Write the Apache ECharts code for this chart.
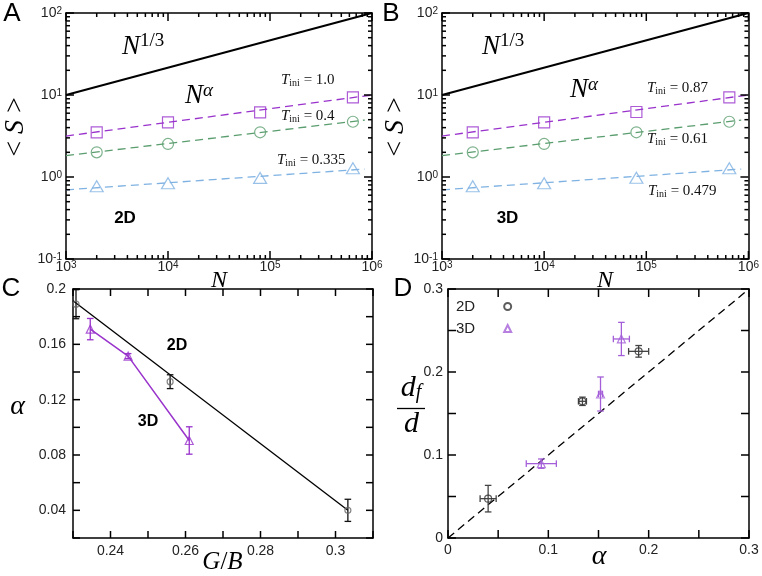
<!DOCTYPE html>
<html>
<head>
<meta charset="utf-8">
<script src="https://cdn.jsdelivr.net/npm/echarts@6/dist/echarts.min.js"></script>
<style>
  html, body { margin: 0; padding: 0; background: #fff; }
  #chart { width: 762px; height: 576px; }
</style>
</head>
<body>
<div id="chart"></div>
<script>
// A / B: mean cluster size <S> against N (log-log)
const nValues = [2000, 10000, 80000, 650000];
const sSquareA = [3.5, 4.63, 6.14, 9.33];
const sCircleA = [2.0, 2.53, 3.51, 4.72];
const sTriangleA = [0.77, 0.84, 0.975, 1.28];
const sSquareB = [3.5, 4.63, 6.2, 9.33];
const sCircleB = [2.0, 2.53, 3.51, 4.72];
const sTriangleB = [0.77, 0.84, 0.98, 1.28];

const refN = [1000, 1000000];
const refS = [10, 100]; // N^(1/3)
const fitN = [1000, 1000000];
const fitNShort = [1000, 850000];
const fitSquare = [3.16, 10];
const fitCircle = [1.82, 4.95];
const fitTriangle = [0.697, 1.25];

const tiniA = ["1.0", "0.4", "0.335"];
const tiniB = ["0.87", "0.61", "0.479"];

// C: alpha against G/B
const gb2D = [0.2308, 0.2559, 0.3033];
const alpha2D = [0.189, 0.133, 0.04];
const alpha2DErr = [0.0105, 0.005, 0.008];
const fitGB = [0.23, 0.3033];
const fitAlpha = [0.1915, 0.04];
const gb3D = [0.2346, 0.2447, 0.261];
const alpha3D = [0.171, 0.1515, 0.0905];
const alpha3DErr = [0.0077, 0.0018, 0.0099];

// D: d_f/d against alpha
const alphaD2 = [0.04, 0.134, 0.19];
const alphaD2Err = [0.008, 0.004, 0.01];
const dfD2 = [0.0474, 0.1647, 0.2249];
const dfD2Err = [0.016, 0.005, 0.007];
const alphaD3 = [0.093, 0.152, 0.1728];
const alphaD3Err = [0.015, 0.002, 0.008];
const dfD3 = [0.0896, 0.1735, 0.2398];
const dfD3Err = [0.0056, 0.0205, 0.02];
const diag = [0, 0.3];

// tick positions, marked on all four sides of each frame
const ticksN = [1e3, 1e4, 1e5, 1e6];
const minorN = [2e3, 3e3, 4e3, 5e3, 6e3, 7e3, 8e3, 9e3, 2e4, 3e4, 4e4, 5e4, 6e4, 7e4, 8e4, 9e4,
  2e5, 3e5, 4e5, 5e5, 6e5, 7e5, 8e5, 9e5];
const ticksS = [0.1, 1, 10, 100];
const minorS = [0.2, 0.3, 0.4, 0.5, 0.6, 0.7, 0.8, 0.9, 2, 3, 4, 5, 6, 7, 8, 9,
  20, 30, 40, 50, 60, 70, 80, 90];
const ticksGB = [0.23, 0.24, 0.25, 0.26, 0.27, 0.28, 0.29, 0.3, 0.31];
const ticksAlphaC = [0.02, 0.04, 0.06, 0.08, 0.1, 0.12, 0.14, 0.16, 0.18, 0.2];
const ticksD = [0, 0.05, 0.1, 0.15, 0.2, 0.25, 0.3];

const purple = "#9933cc";
const green = "#5a9d6e";
const blue = "#7fb2e2";
const sans = "Liberation Sans, Arial, sans-serif";
const serif = "Liberation Serif, Times New Roman, serif";

const chart = echarts.init(document.getElementById("chart"));

const pairs = (xs, ys) => xs.map((x, i) => [x, ys[i]]);
const rows = (xs, ys, ex, ey) => xs.map((x, i) => [x, ys[i], ex ? ex[i] : 0, ey ? ey[i] : 0]);

function axisPair(dim, gridIndex, base, label) {
  const make = (position, axisLabel) =>
    Object.assign(
      {
        gridIndex,
        position,
        axisLine: { show: true, onZero: false, lineStyle: { color: "#000", width: 1.5 } },
        axisTick: { show: false },
        minorTick: { show: false },
        splitLine: { show: false },
        axisLabel,
      },
      base
    );
  return [
    make(dim === "x" ? "bottom" : "left", label),
    make(dim === "x" ? "top" : "right", { show: false }),
  ];
}

const logX = { type: "log", logBase: 10, min: 1e3, max: 1e6 };
const logY = { type: "log", logBase: 10, min: 0.1, max: 100 };
const cX = { type: "value", min: 0.23, max: 0.31, interval: 0.01 };
const cY = { type: "value", min: 0.02, max: 0.2, interval: 0.02 };
const dAxis = { type: "value", min: 0, max: 0.3, interval: 0.05 };

const powRich = {
  b: { fontSize: 14, fontFamily: sans, color: "#222", lineHeight: 14 },
  s: { fontSize: 10, fontFamily: sans, color: "#222", lineHeight: 1, verticalAlign: "top" },
};
function powLabel(v) {
  return "{b|10}{s|" + Math.round(Math.log10(v)) + "}";
}
const powAxisLabel = (margin) => ({ formatter: powLabel, rich: powRich, margin, showMinLabel: true, showMaxLabel: true });

function stepLabel(every, digits, margin) {
  return {
    fontSize: 14, fontFamily: sans, color: "#222", margin,
    showMinLabel: true, showMaxLabel: true,
    formatter: (v) => (Math.round(v * 100) % every === 0 ? String(+v.toFixed(digits)) : ""),
  };
}

const xAxes = [].concat(
  axisPair("x", 0, logX, powAxisLabel(1)),
  axisPair("x", 1, logX, powAxisLabel(1)),
  axisPair("x", 2, cX, stepLabel(2, 2, 6)),
  axisPair("x", 3, dAxis, stepLabel(10, 1, 5))
);
const yAxes = [].concat(
  axisPair("y", 0, logY, powAxisLabel(4)),
  axisPair("y", 1, logY, powAxisLabel(4)),
  axisPair("y", 2, cY, stepLabel(4, 2, 7)),
  axisPair("y", 3, dAxis, stepLabel(10, 1, 5))
);

function line(axis, data, color, width, dashed) {
  return {
    type: "line", xAxisIndex: axis, yAxisIndex: axis, data, symbol: "none", silent: true,
    lineStyle: { color, width, type: dashed ? [8, 5] : "solid" }, z: 2,
  };
}
function marks(axis, data, symbol, size, color, name) {
  return {
    type: "scatter", name, xAxisIndex: axis, yAxisIndex: axis, data, symbol, symbolSize: size, silent: true,
    itemStyle: { color: "rgba(255,255,255,0)", borderColor: color, borderWidth: 1.2 }, z: 4,
  };
}
function errorBars(axis, data, color) {
  return {
    type: "custom", xAxisIndex: axis, yAxisIndex: axis, data, silent: true, z: 3,
    dimensions: ["x", "y", "ex", "ey"], encode: { x: "x", y: "y" },
    renderItem(params, api) {
      const x = api.value(0), y = api.value(1), ex = api.value(2), ey = api.value(3);
      const style = { stroke: color, lineWidth: 1.3 };
      const cap = 3.3;
      const kids = [];
      const seg = (x1, y1, x2, y2) => kids.push({ type: "line", shape: { x1, y1, x2, y2 }, style });
      if (ey) {
        const t = api.coord([x, y + ey]), b = api.coord([x, y - ey]);
        seg(t[0], t[1], b[0], b[1]);
        seg(t[0] - cap, t[1], t[0] + cap, t[1]);
        seg(b[0] - cap, b[1], b[0] + cap, b[1]);
      }
      if (ex) {
        const l = api.coord([x - ex, y]), r = api.coord([x + ex, y]);
        seg(l[0], l[1], r[0], r[1]);
        seg(l[0], l[1] - cap, l[0], l[1] + cap);
        seg(r[0], r[1] - cap, r[0], r[1] + cap);
      }
      return { type: "group", children: kids };
    },
  };
}

// inward ticks on the four sides of a frame; rows are [x, y, length, side]
function frameTicks(axis, xRef, yRef, xMajor, xMinor, yMajor, yMinor, bigLen) {
  const data = []
    .concat(xMajor.map((v) => [v, yRef, bigLen, 0]))
    .concat(xMinor.map((v) => [v, yRef, bigLen / 2, 0]))
    .concat(yMajor.map((v) => [xRef, v, bigLen, 1]))
    .concat(yMinor.map((v) => [xRef, v, bigLen / 2, 1]));
  return {
    type: "custom", xAxisIndex: axis, yAxisIndex: axis, data, silent: true, z: 10, clip: false,
    dimensions: ["x", "y", "len", "side"], encode: { x: "x", y: "y" },
    renderItem(params, api) {
      const cs = params.coordSys;
      const p = api.coord([api.value(0), api.value(1)]);
      const len = api.value(2);
      const style = { stroke: "#000", lineWidth: 1.5 };
      const top = cs.y, bottom = cs.y + cs.height, left = cs.x, right = cs.x + cs.width;
      const shapes = api.value(3) === 0
        ? [{ x1: p[0], y1: bottom, x2: p[0], y2: bottom - len }, { x1: p[0], y1: top, x2: p[0], y2: top + len }]
        : [{ x1: left, y1: p[1], x2: left + len, y2: p[1] }, { x1: right, y1: p[1], x2: right - len, y2: p[1] }];
      return { type: "group", children: shapes.map((shape) => ({ type: "line", shape, style })) };
    },
  };
}

const series = [
  // A
  line(0, pairs(refN, refS), "#000", 2, false),
  line(0, pairs(fitN, fitSquare), purple, 1.3, true),
  line(0, pairs(fitNShort, fitCircle), green, 1.3, true),
  line(0, pairs(fitNShort, fitTriangle), blue, 1.3, true),
  marks(0, pairs(nValues, sSquareA), "rect", 11, purple, "sqA"),
  marks(0, pairs(nValues, sCircleA), "circle", 11, green, "ciA"),
  marks(0, pairs(nValues, sTriangleA), "triangle", [13, 11], blue, "trA"),
  frameTicks(0, 1e3, 0.1, ticksN, minorN, ticksS, minorS, 8),
  // B
  line(2, pairs(refN, refS), "#000", 2, false),
  line(2, pairs(fitN, fitSquare), purple, 1.3, true),
  line(2, pairs(fitNShort, fitCircle), green, 1.3, true),
  line(2, pairs(fitNShort, fitTriangle), blue, 1.3, true),
  marks(2, pairs(nValues, sSquareB), "rect", 11, purple, "sqB"),
  marks(2, pairs(nValues, sCircleB), "circle", 11, green, "ciB"),
  marks(2, pairs(nValues, sTriangleB), "triangle", [13, 11], blue, "trB"),
  frameTicks(2, 1e3, 0.1, ticksN, minorN, ticksS, minorS, 8),
  // C
  line(4, pairs(fitGB, fitAlpha), "#000", 1.3, false),
  line(4, pairs(gb3D, alpha3D), purple, 1.5, false),
  errorBars(4, rows(gb2D, alpha2D, null, alpha2DErr), "#111"),
  errorBars(4, rows(gb3D, alpha3D, null, alpha3DErr), purple),
  marks(4, pairs(gb2D, alpha2D), "circle", 6, "#666", "c2D"),
  marks(4, pairs(gb3D, alpha3D), "triangle", 8, purple, "c3D"),
  frameTicks(4, 0.23, 0.02, ticksGB, [], ticksAlphaC, [], 7),
  // D
  line(6, pairs(diag, diag), "#000", 1.3, true),
  errorBars(6, rows(alphaD2, dfD2, alphaD2Err, dfD2Err), "#444"),
  errorBars(6, rows(alphaD3, dfD3, alphaD3Err, dfD3Err), "#a45fd8"),
  marks(6, pairs(alphaD2, dfD2), "circle", 7, "#333", "2D"),
  marks(6, pairs(alphaD3, dfD3), "triangle", 8, "#a45fd8", "3D"),
  frameTicks(6, 0, 0, ticksD, [], ticksD, [], 8),
];

function text(x, y, str, style, extra) {
  return Object.assign({
    type: "text", x, y, silent: true, z: 10,
    style: Object.assign({ text: str, fill: "#000", align: "left", verticalAlign: "middle" }, style),
  }, extra || {});
}

const powerRich = {
  i: { fontFamily: serif, fontStyle: "italic", fontSize: 27, lineHeight: 30, fill: "#000" },
  p: { fontFamily: serif, fontSize: 19, lineHeight: 8, verticalAlign: "top", fill: "#000" },
  a: { fontFamily: serif, fontStyle: "italic", fontSize: 19, lineHeight: 15, verticalAlign: "top", fill: "#000" },
};
const tRich = {
  t: { fontFamily: serif, fontStyle: "italic", fontSize: 15, lineHeight: 16, fill: "#111" },
  s: { fontFamily: serif, fontSize: 10, lineHeight: 8, verticalAlign: "bottom", fill: "#111" },
  r: { fontFamily: serif, fontSize: 15, lineHeight: 16, fill: "#111" },
};
const tLabel = (x, y, v) => text(x, y, "{t|T}{s|ini}{r| = " + v + "}", { rich: tRich });
const bold = (x, y, s, size) => text(x, y, s, { fontFamily: sans, fontWeight: "bold", fontSize: size, align: "center" });
const letter = (x, y, s) => text(x, y, s, { fontFamily: sans, fontSize: 26, align: "center" });
const mathRich = {
  i: { fontFamily: serif, fontStyle: "italic", fontSize: 28, fill: "#000" },
  r: { fontFamily: serif, fontSize: 28, fill: "#000" },
};

const labels = [
  letter(12, 14, "A"), letter(391, 14, "B"), letter(11, 289, "C"), letter(403, 289, "D"),
  text(122, 47, "{i|N}{p|1/3}", { rich: powerRich }),
  text(185, 96, "{i|N}{a|α}", { rich: powerRich }),
  text(482, 47, "{i|N}{p|1/3}", { rich: powerRich }),
  text(570, 90, "{i|N}{a|α}", { rich: powerRich }),
  tLabel(281, 80, tiniA[0]), tLabel(281, 116, tiniA[1]), tLabel(277, 160, tiniA[2]),
  tLabel(647, 88, tiniB[0]), tLabel(647, 139.5, tiniB[1]), tLabel(648, 191, tiniB[2]),
  bold(125, 218.5, "2D", 17), bold(507.5, 218.5, "3D", 17),
  bold(177, 345.5, "2D", 16), bold(148, 421.5, "3D", 16),
  text(219, 281, "{i|N}", { rich: { i: { fontFamily: serif, fontStyle: "italic", fontSize: 24 } }, align: "center" }),
  text(605, 281, "{i|N}", { rich: { i: { fontFamily: serif, fontStyle: "italic", fontSize: 24 } }, align: "center" }),
  text(16, 127, "{r|< }{i|S}{r| >}", { rich: mathRich, align: "center" }, { rotation: Math.PI / 2 }),
  text(396, 127, "{r|< }{i|S}{r| >}", { rich: mathRich, align: "center" }, { rotation: Math.PI / 2 }),
  text(17.5, 407, "{i|α}", { rich: mathRich, align: "center" }),
  text(222.5, 562, "{i|G}{r|/}{i|B}", {
    rich: { i: { fontFamily: serif, fontStyle: "italic", fontSize: 25 }, r: { fontFamily: serif, fontSize: 25 } },
    align: "center",
  }),
  text(599, 557, "{i|α}", { rich: mathRich, align: "center" }),
  text(411, 388, "{d|d}{f|f}", {
    rich: {
      d: { fontFamily: serif, fontStyle: "italic", fontSize: 30, lineHeight: 30 },
      f: { fontFamily: serif, fontStyle: "italic", fontSize: 20, lineHeight: 10, verticalAlign: "bottom" },
    },
    align: "center",
  }),
  { type: "line", silent: true, z: 10, shape: { x1: 397, y1: 408.5, x2: 425, y2: 408.5 }, style: { stroke: "#000", lineWidth: 1.3 } },
  text(411.5, 424, "{d|d}", { rich: { d: { fontFamily: serif, fontStyle: "italic", fontSize: 30 } }, align: "center" }),
];

chart.setOption({
  animation: false,
  backgroundColor: "#fff",
  grid: [
    { left: 66, top: 13, width: 306, height: 246 },
    { left: 442, top: 13, width: 307, height: 246 },
    { left: 73, top: 289, width: 300, height: 249 },
    { left: 448, top: 289, width: 301, height: 249 },
  ],
  xAxis: xAxes,
  yAxis: yAxes,
  legend: {
    show: true, orient: "vertical", left: 451, top: 294, align: "right",
    itemWidth: 7, itemHeight: 7, itemGap: 7,
    textStyle: { fontSize: 15, fontFamily: sans, color: "#222", padding: [0, 24, 0, 0] },
    data: ["2D", "3D"],
  },
  series,
  graphic: labels,
});
</script>
</body>
</html>
